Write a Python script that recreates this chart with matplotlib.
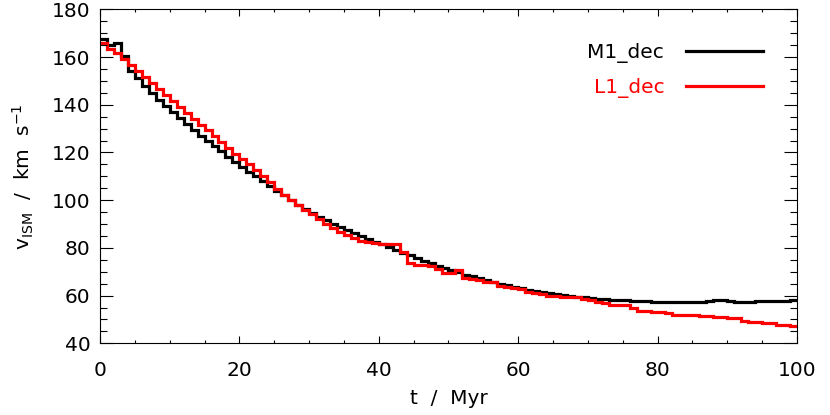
import numpy as np
import matplotlib
matplotlib.use("Agg")
import matplotlib.pyplot as plt
from matplotlib.ticker import MultipleLocator

plt.rcParams['font.family'] = ['DejaVu Sans']
plt.rcParams['font.size'] = 14.5

# time bins (Myr), 1 Myr wide
t_edges = np.arange(0, 101, 1)

# ISM velocity per bin (km/s)
m1_dec = [167.4, 165.0, 165.8, 160.5, 154.0, 151.0, 148.0, 145.0, 142.0, 139.5,
          137.0, 134.5, 132.0, 129.5, 127.0, 125.0, 122.5, 120.5, 118.0, 116.0,
          114.0, 112.0, 110.0, 108.0, 106.0, 104.0, 102.0, 100.0, 98.0, 96.2,
          94.5, 93.0, 91.5, 90.0, 88.7, 87.5, 86.2, 85.0, 83.8, 82.6,
          81.5, 80.3, 79.2, 78.0, 76.8, 75.7, 74.6, 73.5, 72.5, 71.5,
          70.6, 69.7, 68.8, 68.0, 67.2, 66.4, 65.7, 65.0, 64.3, 63.7,
          63.1, 62.5, 62.0, 61.5, 61.0, 60.6, 60.2, 59.8, 59.5, 59.2,
          58.9, 58.7, 58.5, 58.3, 58.2, 58.0, 57.9, 57.7, 57.6, 57.4,
          57.3, 57.2, 57.1, 57.1, 57.1, 57.2, 57.4, 57.6, 58.0, 58.3,
          57.6, 57.1, 57.1, 57.4, 57.9, 57.8, 57.7, 57.8, 57.9, 58.0]

l1_dec = [166.0, 163.5, 161.8, 159.2, 156.7, 154.0, 151.5, 149.2, 146.5, 144.0,
          141.5, 139.2, 136.7, 134.2, 131.6, 129.2, 126.8, 124.5, 122.0, 119.5,
          117.3, 115.0, 112.5, 110.0, 107.4, 104.5, 102.2, 100.2, 98.0, 96.0,
          94.0, 92.2, 90.2, 88.4, 86.8, 85.3, 84.2, 83.0, 82.4, 82.1,
          81.7, 81.7, 81.5, 78.2, 73.5, 73.0, 73.0, 72.5, 71.2, 69.5,
          69.5, 70.6, 67.5, 67.0, 66.5, 65.8, 65.5, 64.2, 63.8, 63.2,
          62.8, 61.3, 61.0, 60.8, 59.9, 59.7, 59.6, 59.4, 59.2, 58.6,
          58.2, 57.2, 56.8, 56.2, 56.1, 56.0, 54.7, 53.6, 53.4, 53.3,
          53.2, 52.5, 52.0, 51.9, 51.8, 51.7, 51.5, 51.4, 51.2, 51.0,
          50.8, 50.4, 49.2, 49.0, 48.9, 48.6, 48.4, 47.8, 47.6, 47.4]

fig = plt.figure(figsize=(8.3, 4.15), dpi=100)
ax = fig.add_axes([0.1205, 0.1728, 0.8397, 0.8048])

s1 = ax.stairs(m1_dec, t_edges, color='black', lw=2.3, baseline=None, label='M1_dec')
s2 = ax.stairs(l1_dec, t_edges, color='red', lw=2.3, baseline=None, label='L1_dec')

ax.set_xlim(0, 100)
ax.set_ylim(40, 180)
ax.xaxis.set_major_locator(MultipleLocator(20))
ax.xaxis.set_minor_locator(MultipleLocator(5))
ax.yaxis.set_major_locator(MultipleLocator(20))
ax.yaxis.set_minor_locator(MultipleLocator(5))

for sp in ax.spines.values():
    sp.set_linewidth(0.8)
ax.tick_params(which='both', direction='in', top=True, right=True, width=0.8)
ax.tick_params(axis='x', which='major', length=5, pad=13)
ax.tick_params(axis='x', which='minor', length=2.5)
ax.tick_params(axis='y', which='major', length=9.5, pad=7)
ax.tick_params(axis='y', which='minor', length=5)

ax.set_xlabel('t  /  Myr', labelpad=6)
ax.set_ylabel(r'v$_{\rm ISM}$  /  km  s$^{-1}$', labelpad=11)

leg = ax.legend(handles=[s1, s2], loc='upper right', bbox_to_anchor=(0.951, 0.90),
                frameon=False, markerfirst=False, handlelength=3.8, handletextpad=1.1,
                labelspacing=0.75, borderpad=0, borderaxespad=0)
for txt, c in zip(leg.get_texts(), ['black', 'red']):
    txt.set_color(c)

fig.savefig('out.png', dpi=100)
